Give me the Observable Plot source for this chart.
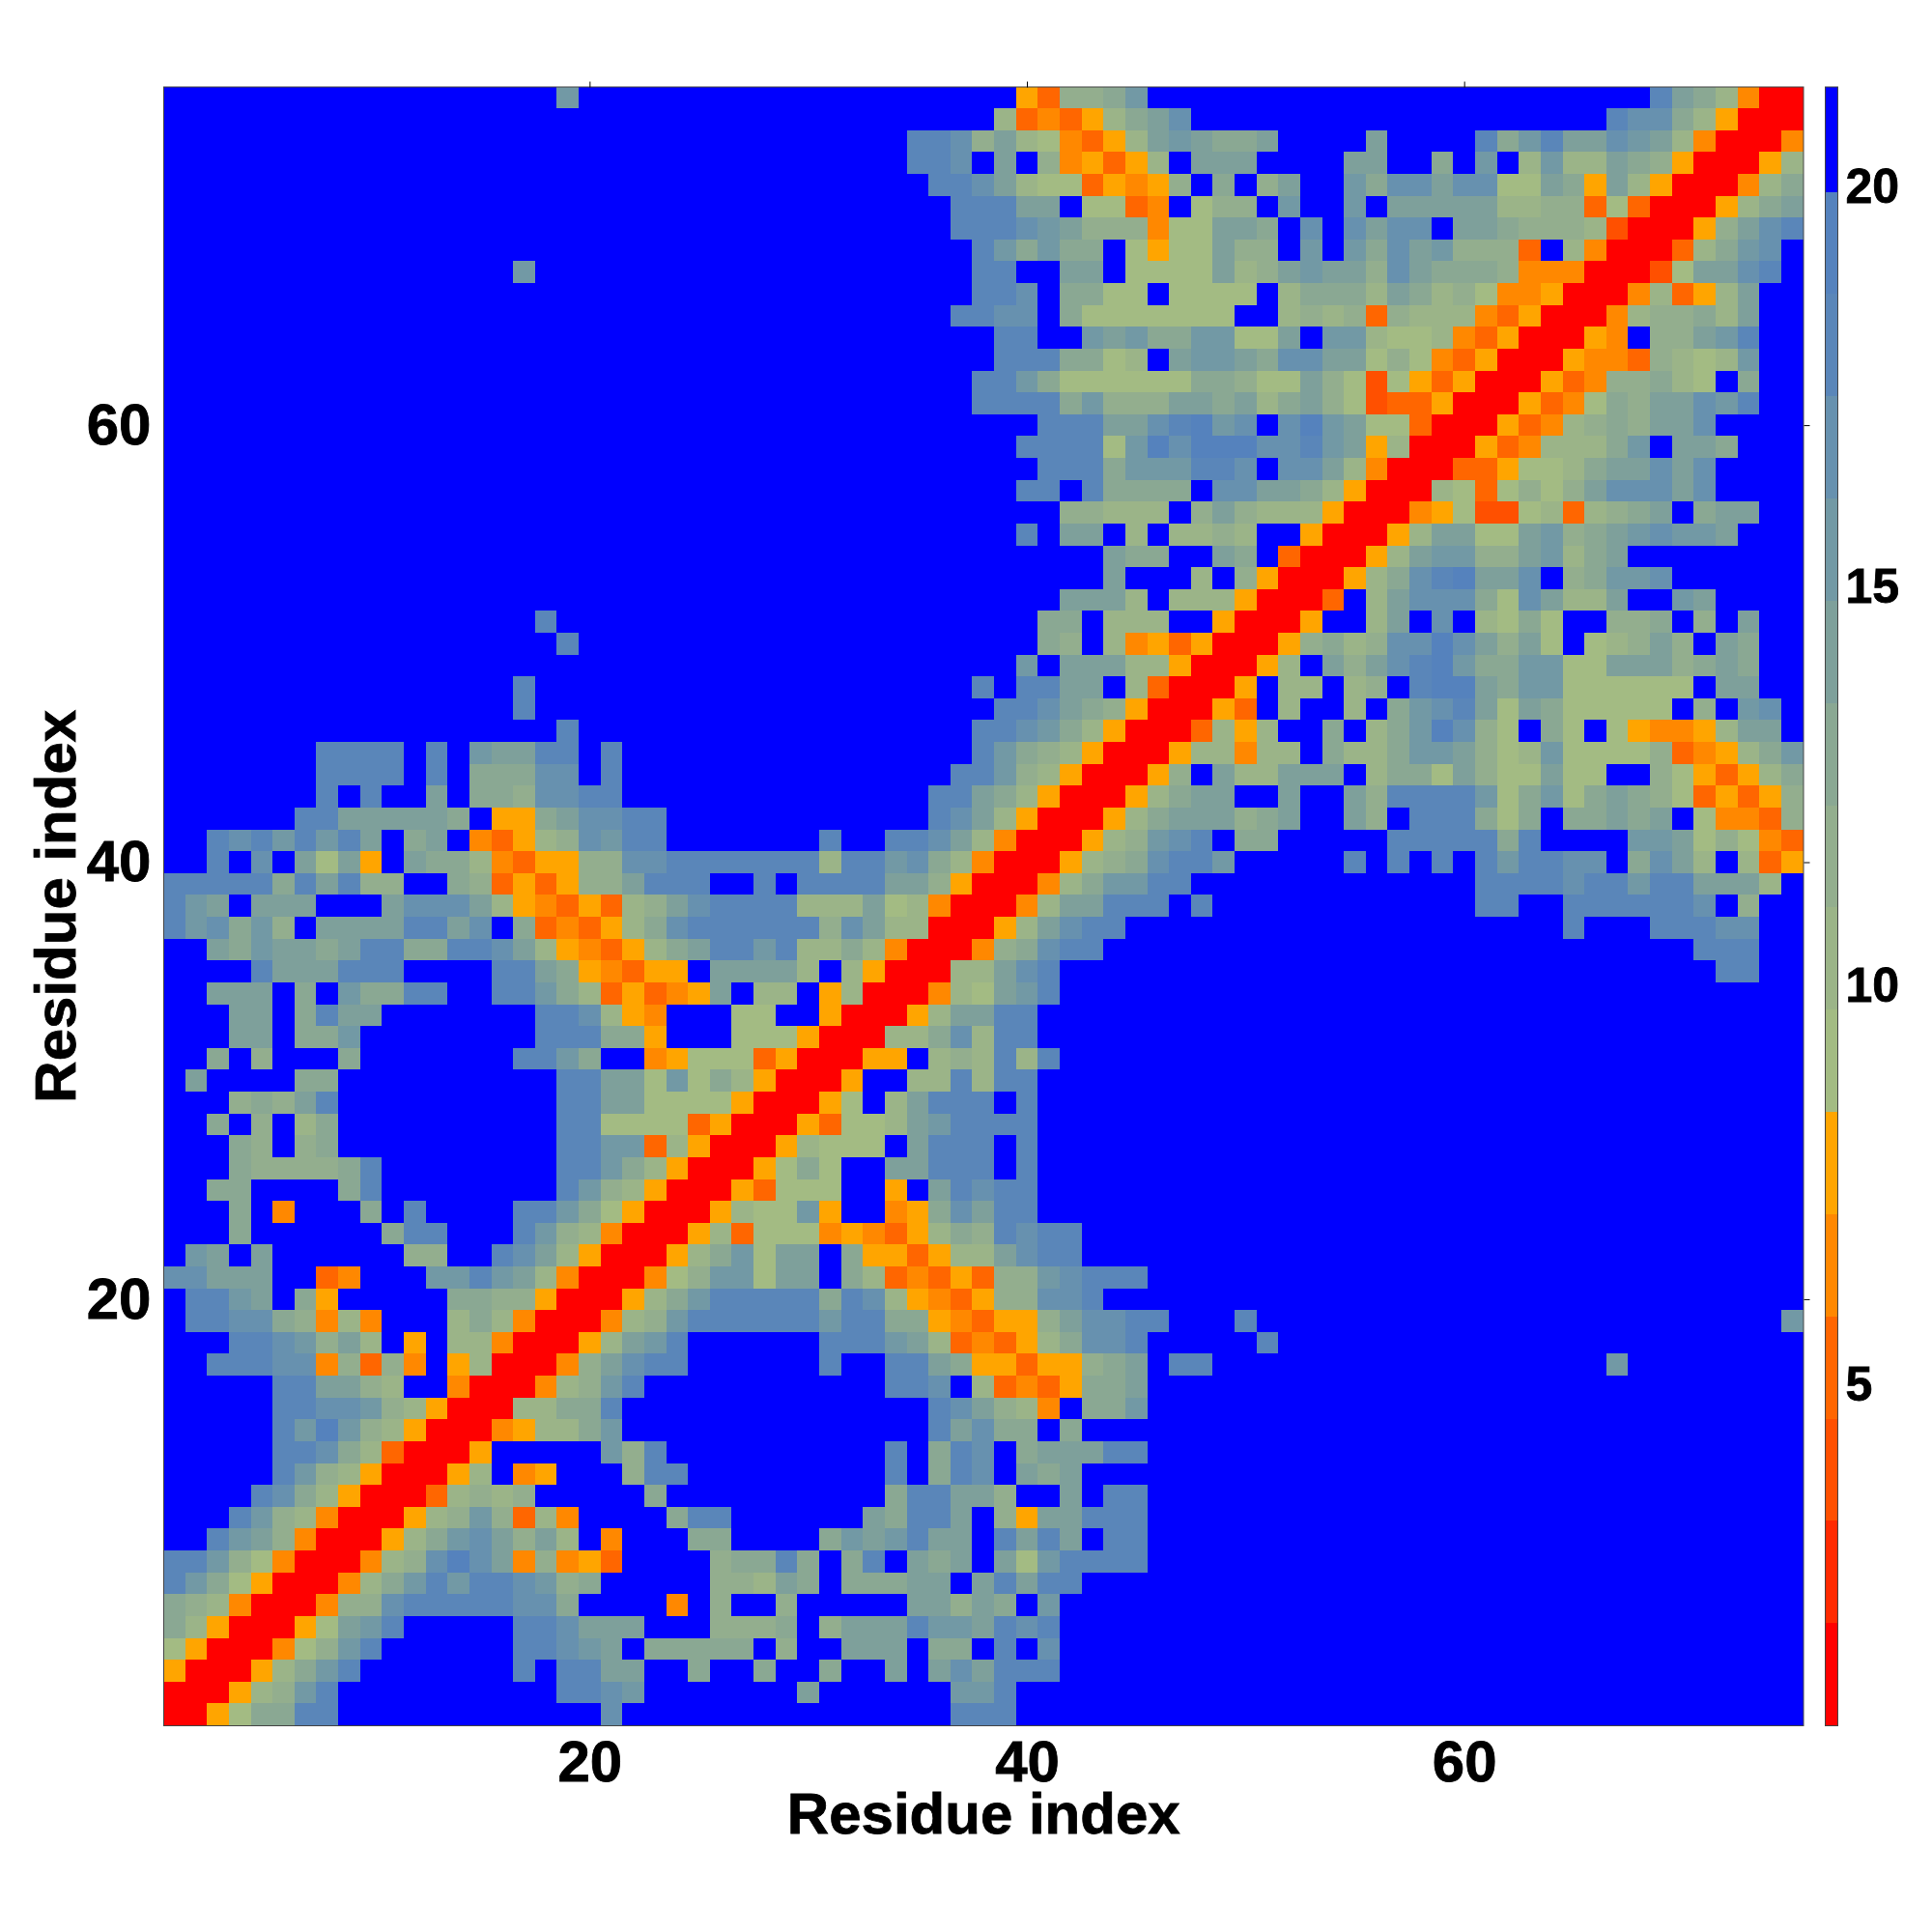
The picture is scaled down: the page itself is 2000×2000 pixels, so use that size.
<!DOCTYPE html>
<html>
<head>
<meta charset="utf-8">
<script src="https://cdn.jsdelivr.net/npm/d3@7"></script>
<script src="https://cdn.jsdelivr.net/npm/@observablehq/plot@0.6"></script>
<style>
html,body{margin:0;padding:0;background:#fff}
#wrap{position:relative;width:2000px;height:2000px}
#wrap svg{position:absolute;top:0;background:transparent;overflow:visible}
#wrap text{stroke:#000;stroke-width:0.8px}
</style>
</head>
<body>
<div id="wrap"></div>
<script>
// One row per residue y (1..75); each row lists the levels for x = 1..y. <n> = run of n beyond-cutoff cells.
const rows = [
"r",
"rr",
"yrr",
"1yrr",
"42yrr",
"432mrr",
"8641yrr",
"88631mrr",
"BB8653mrr",
"BBB8632mrr",
"BBBB8742yrr",
"BBBBB8632yrr",
"BBBBB88742orr",
"BBBBB869632yrr",
"BBBBB8877632yrr",
"BBBBB885532BBmrr",
"BB88877m3o3mBy2rr",
"BBB8876352ByB22mrr",
"B887743m2mBBB242mrr",
"B8865B4yBBBBB4433yrr",
"77555BBomBBB668652mrr",
"B65B5BBBBBB33BB8752yrr",
"BBB4BBBBBB488BBB8632mrr",
"BBB4BmBBB4B8BBBB88641yrr",
"BB44BBBB48BBBBBBBB8632yrr",
"BBB4333348BBBBBBBB88642yrr",
"BBB43B34BBBBBBBBBB8866o2yrr",
"BB4B3B24BBBBBBBBBB881111oyrr",
"BBB34358BBBBBBBBBB88551111yrr",
"B5BBBB44BBBBBBBBBB885516142yrr",
"BB4B3BBB4BBBBBBB8864BBmy111oyrr",
"BBB55B446BBBBBBBB88844yBBB111yrr",
"BBB55B4855BBBBBBB8872ymBBB11BByrr",
"BB555B4B64488BB88642oyomy5B22By2rr",
"BBBB8555888BBBB8854ymoyyB55552B2yrr",
"BB5465545884488752ymoy24588682242mrr",
"867463B55558857B4omoy24788888837522rr",
"865B555BBB577752ymoyo23578888222512mrr",
"88888485833BB43oyoy335888BB8B8888553yrr",
"BB8B7B515yB5442moyy337788888882886742mrr",
"BB87868685B45Bmoy237688BBBBBBB8BB88752mrr",
"BBBBBB88555554Byy457788<12>8752yrr",
"BBBBBBB8B8BB5B4437788<14>88542yrr",
"BBBBBBB8888B8B44477B8<15>88632yrr",
"BBBBBBB8888B8B65588B8<16>86432yrr",
"<18>8<18>887642yrr",
"<16>8<21>887543yrr",
"<16>8<20>8B8855B2orr",
"<39>6B55522yrr",
"<18>8<21>43B2myoyrr",
"<17>8<22>44B222BByrr",
"<41>5552B222yrr",
"<43>5BBB2B3yrr",
"<43>544BB54Borr",
"<39>8B55B2B2232BByrr",
"<41>33222B353222yrr",
"<39>88B84444B775542yrr",
"<40>8884666887B7752mrr",
"<39>8888169799977865y2rr",
"<40>8885578967B796511orr",
"<37>888846333554524531dooyrr",
"<37>886411111144311531d1yoyrr",
"<38>8884412B566547755131moyrr",
"<38>88BB6564466115B662112moyrr",
"<36>8877B41111111BB2323o3222moyrr",
"<37>887B4411B1111B2444254231mmyrr",
"<16>6<20>88BB55B111152356553754443mmmrr",
"<37>864644B1y11533B6B64756333oB2mrr",
"<36>888765333m11554B7B7577B5543332drr",
"<36>88855B11omB133B6BB6B555552233o1orr",
"<35>8875211oymy3B4B35BB64775771154y52yrr",
"<34>887B5B3myoy2B555BBBB55BB4B6B2622543yrr",
"<34>8873521moy2565445BBBB5BBBB8468557652mrr",
"<38>2omoy2457<19>87742yrr",
"<18>6<20>yo3346<23>8542mrr"
];
// Level codes
const levelValues = {r:1.4, d:3.9, o:5.2, m:6.5, y:7.8, 1:9.0, 2:10.3, 3:11.6, 4:12.9, 5:14.2, 6:15.4, 7:16.7, 8:18.0, 9:19.3, B:21};
const bandEdges = [0.74,2.02,3.3,4.58,5.86,7.14,8.42,9.7,10.98,12.26,13.54,14.82,16.1,17.38,18.66,19.94,21.26];
const bandColors = ["#ff0000","#ff2a00","#ff5000","#ff6600","#ff8800","#ffa500","#a3bb83","#9bb488","#93ae8e","#8aa893","#7ea09b","#7299a5","#6791af","#5a86b9","#5582bd","#0000ff"];
const axisTicks = [20,40,60];
const barTicks = [5,10,15,20];
const axisTitle = "Residue index";

const expanded = rows.map(s => s.replace(/<(\d+)>/g,(_,n)=>"B".repeat(+n)));
const cells = [];
expanded.forEach((s,i)=>{
  for(let j=0;j<=i;j++){
    const v = levelValues[s[j]];
    cells.push({x:j+1,y:i+1,v});
    if(i!==j) cells.push({x:i+1,y:j+1,v});
  }
});
const font = "'Liberation Sans', Arial, sans-serif";
const color = {type:"threshold",domain:bandEdges.slice(1,-1),range:bandColors};
const axisStyle = {fontFamily:font,fontWeight:"bold",fontSize:60,stroke:null};

const main = Plot.plot({
  width:2000,height:2000,
  marginLeft:169,marginRight:133.5,marginTop:89.5,marginBottom:214,
  style:{background:"transparent",fontFamily:font},
  x:{domain:[0.5,75.5],label:null},
  y:{domain:[0.5,75.5],label:null},
  color,
  marks:[
    Plot.rect(cells,{x1:d=>d.x-0.5,x2:d=>d.x+0.5,y1:d=>d.y-0.5,y2:d=>d.y+0.5,fill:"v",shapeRendering:"crispEdges"}),
    Plot.frame({stroke:"#444",strokeWidth:1}),
    Plot.axisX({anchor:"bottom",ticks:axisTicks,tickSize:6,tickPadding:9,label:axisTitle,labelAnchor:"center",labelArrow:"none",labelOffset:111,...axisStyle}),
    Plot.axisX({anchor:"top",ticks:axisTicks,tickSize:6,tickFormat:()=>"",label:null}),
    Plot.axisY({anchor:"left",ticks:axisTicks,tickSize:6,tickPadding:7,label:axisTitle,labelAnchor:"center",labelArrow:"none",labelOffset:134,...axisStyle}),
    Plot.axisY({anchor:"right",ticks:axisTicks,tickSize:6,tickFormat:()=>"",label:null})
  ]
});

const bands = bandColors.map((c,i)=>({lo:bandEdges[i],hi:bandEdges[i+1],mid:(bandEdges[i]+bandEdges[i+1])/2}));
const bar = Plot.plot({
  width:111,height:2000,
  marginLeft:0,marginRight:98,marginTop:89.5,marginBottom:214,
  style:{background:"transparent",fontFamily:font},
  x:{domain:[0,1],axis:null},
  y:{domain:[bandEdges[0],bandEdges[bandEdges.length-1]],axis:null},
  color,
  marks:[
    Plot.rect(bands,{x1:0,x2:1,y1:"lo",y2:"hi",fill:"mid",shapeRendering:"crispEdges"}),
    Plot.frame({stroke:"#444",strokeWidth:1}),
    Plot.axisY({anchor:"right",ticks:barTicks,tickSize:5,tickPadding:3,label:null,fontFamily:font,fontWeight:"bold",fontSize:50,stroke:null})
  ]
});
bar.style.left = "1889px";
main.style.left = "0px";
document.getElementById("wrap").append(main,bar);
</script>
</body>
</html>
